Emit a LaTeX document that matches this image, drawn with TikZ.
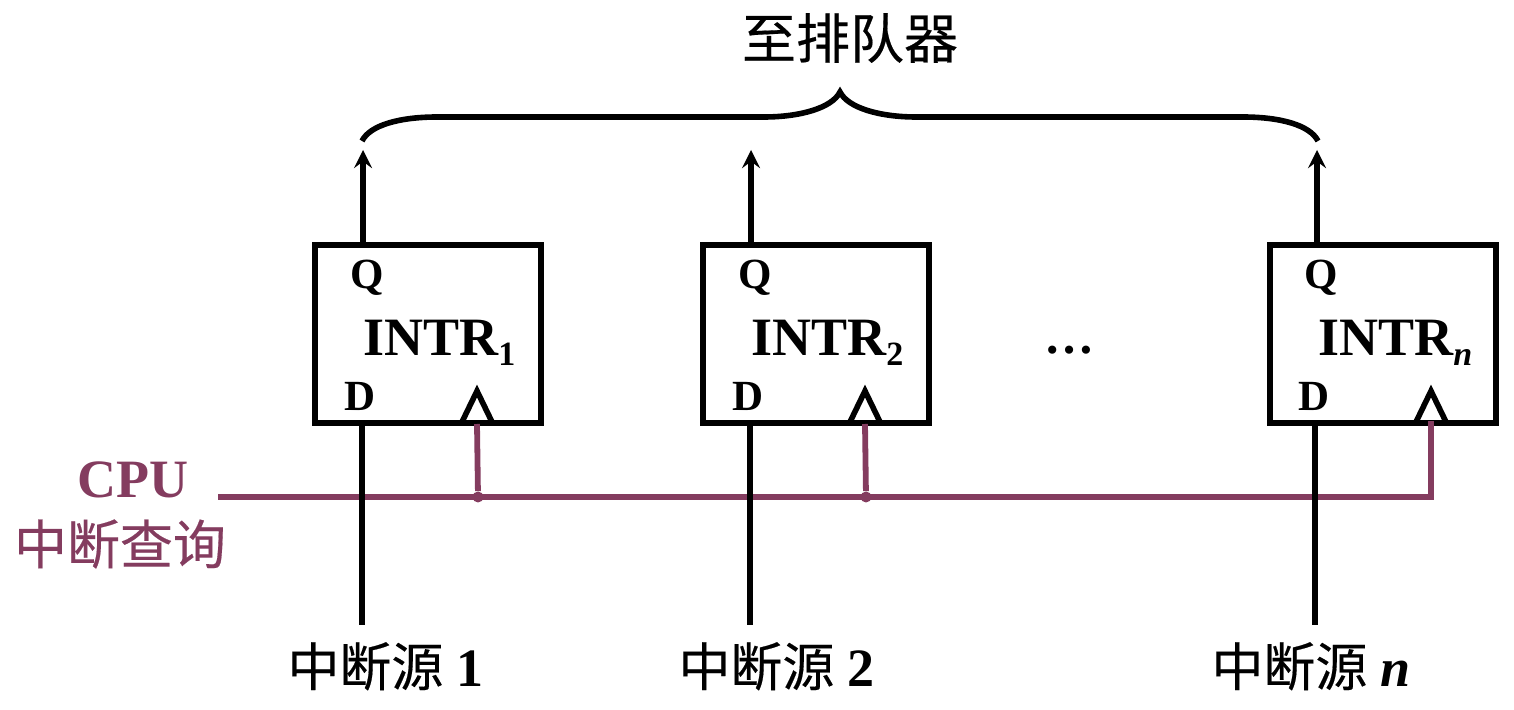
\documentclass[tikz,border=0pt]{standalone}
\usepackage{fontspec}
\setmainfont{Liberation Serif}
\newfontfamily\cjk[FakeBold=0.3]{Noto Sans CJK SC}
\definecolor{querycol}{HTML}{843C5F}
\newcommand{\lowsub}[1]{\raisebox{-5pt}{\fontsize{17}{17}\selectfont #1}}
\newcommand{\srcname}{{\fontsize{26}{26}\selectfont\cjk\mdseries 中断源}}
\tikzset{
    regbox/.style={draw,line width=2.8pt,minimum width=113pt,minimum height=89pt,inner sep=0pt},
    pinlabel/.style={inner sep=0pt,font=\fontsize{21.5}{21.5}\selectfont\bfseries},
    reglabel/.style={inner sep=0pt,anchor=base west,font=\fontsize{27}{27}\selectfont\bfseries},
    srclabel/.style={inner sep=0pt,anchor=base west,font=\fontsize{27}{27}\selectfont\bfseries},
    sigline/.style={line width=2.9pt},
    queryline/.style={line width=2.9pt,querycol},
    clocktip/.style={line width=2.8pt,miter limit=10},
    joint/.style={circle,fill=querycol,inner sep=0pt,minimum size=5.5pt},
}
\begin{document}
\begin{tikzpicture}[x=0.5pt,y=-0.5pt]
    \useasboundingbox (0,0) rectangle (1514,710);
    % registers
    \node[regbox] (intr1) at (428,334) {};
    \node[regbox] (intr2) at (816,334) {};
    \node[regbox] (intrn) at (1383,334) {};
    \node[reglabel] (name1) at (363,356) {INTR\lowsub{1}};
    \node[reglabel] (name2) at (751,356) {INTR\lowsub{2}};
    \node[reglabel] (namen) at (1318,356) {INTR\lowsub{\textit{n}}};
    \node[pinlabel] (q1) at (367,278) {Q};
    \node[pinlabel] (q2) at (755,278) {Q};
    \node[pinlabel] (qn) at (1321,278) {Q};
    \node[pinlabel] (d1) at (360,396) {D};
    \node[pinlabel] (d2) at (748,396) {D};
    \node[pinlabel] (dn) at (1314,396) {D};
    \node[inner sep=0pt,anchor=base,font=\fontsize{25}{25}\selectfont\bfseries] (dots) at (1069,354) {…};
    % outputs
    \coordinate (out1) at (363,150);
    \coordinate (out2) at (751,150);
    \coordinate (outn) at (1317,150);
    \draw[sigline,-stealth] (intr1.north -| out1)--(out1);
    \draw[sigline,-stealth] (intr2.north -| out2)--(out2);
    \draw[sigline,-stealth] (intrn.north -| outn)--(outn);
    % brace
    \coordinate (braceleft) at (362,141);
    \coordinate (braceright) at (1318,141);
    \coordinate (bracetip) at (840,92);
    \draw[line width=2.8pt] (braceleft) .. controls (370,125) and (400,117) .. (437,117)
        -- (764,117) .. controls (800,117) and (832,108) .. (bracetip)
        .. controls (848,108) and (880,117) .. (916,117)
        -- (1243,117) .. controls (1280,117) and (1310,125) .. (braceright);
    \node[inner sep=0pt,font=\fontsize{27}{27}\selectfont\cjk] (sorter) at (850,38) {至排队器};
    % inputs
    \node[srclabel] (src1) at (287,686) {\srcname\ 1};
    \node[srclabel] (src2) at (678,686) {\srcname\ 2};
    \node[srclabel] (srcn) at (1211,686) {\srcname\ \textit{n}};
    \coordinate (in1) at (362,625);
    \coordinate (in2) at (750,625);
    \coordinate (inn) at (1315,625);
    % query line
    \coordinate (busstart) at (218,497);
    \coordinate (busend) at (1431,497);
    \node[joint] (tap1) at (478,497) {};
    \node[joint] (tap2) at (866,497) {};
    \coordinate (clk1) at (477,424);
    \coordinate (clk2) at (865,424);
    \coordinate (clkn) at (1431,424);
    \draw[queryline] (busstart)--(busend);
    \draw[queryline] (clk1)--(tap1);
    \draw[queryline] (clk2)--(tap2);
    \draw[queryline,line cap=rect] (clkn)--(busend);
    \draw[sigline] (intr1.south -| in1)--(in1);
    \draw[sigline] (intr2.south -| in2)--(in2);
    \draw[sigline] (intrn.south -| inn)--(inn);
    % clock marks
    \draw[clocktip] (461,424)--(477,391)--(493,424);
    \draw[clocktip] (849,424)--(865,391)--(881,424);
    \draw[clocktip] (1415,424)--(1431,391)--(1447,424);
    \node[inner sep=0pt,text=querycol,font=\fontsize{27}{27}\selectfont\bfseries] (cpu) at (133,480) {CPU};
    \node[inner sep=0pt,text=querycol,font=\fontsize{26.5}{26.5}\selectfont\cjk] (query) at (120,544) {中断查询};
\end{tikzpicture}
\end{document}
